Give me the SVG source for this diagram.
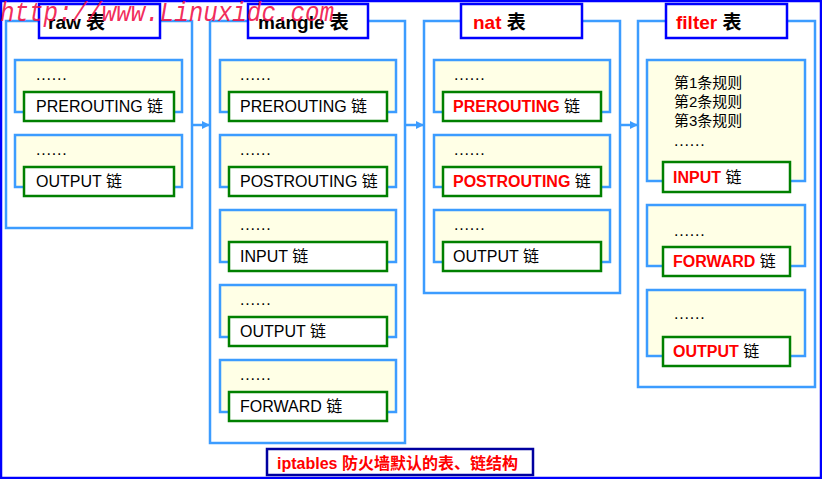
<svg xmlns="http://www.w3.org/2000/svg" width="822" height="479" viewBox="0 0 822 479">
<defs>
<style>
.tbl{fill:#fff;stroke:#3C9CFF;stroke-width:2.5}
.ttl{fill:#fff;stroke:#0000FF;stroke-width:2.5}
.yb{fill:#FFFFE6;stroke:#3C9CFF;stroke-width:2.5}
.gb{fill:#fff;stroke:#008000;stroke-width:2.5}
text{font-family:"Liberation Sans","Noto Sans CJK SC",sans-serif;fill:#000}
.tt{font-size:19px;font-weight:bold}
.ct{font-size:16px}
.r{fill:#FF0000;font-weight:bold}
.dots{font-size:16px;letter-spacing:0.8px}
.rule{font-size:15px}
.conn{stroke:#3C9CFF;stroke-width:2.5;fill:none}
</style>
<marker id="ah" markerWidth="8" markerHeight="8" refX="7" refY="4" orient="auto" markerUnits="userSpaceOnUse">
<path d="M0,0 L8,4 L0,8 Z" fill="#3C9CFF"/>
</marker>
</defs>
<rect x="1" y="1" width="820" height="477" fill="#fff" stroke="#0000FF" stroke-width="2.5"/>

<g id="raw">
<rect class="tbl" x="6" y="21" width="186" height="207"/>
<rect class="ttl" x="39" y="4" width="121" height="34"/>
<text class="tt" x="48" y="29">raw 表</text>
<g id="raw-prerouting">
<rect class="yb" x="15" y="60" width="167" height="52"/>
<text class="dots" x="36" y="80">......</text>
<rect class="gb" x="24" y="92" width="150" height="29"/>
<text class="ct" x="36" y="112">PREROUTING 链</text>
</g>
<g id="raw-output">
<rect class="yb" x="15" y="135" width="167" height="52"/>
<text class="dots" x="36" y="155">......</text>
<rect class="gb" x="24" y="167" width="150" height="29"/>
<text class="ct" x="36" y="187">OUTPUT 链</text>
</g>
</g>

<g id="mangle">
<rect class="tbl" x="210" y="21" width="195" height="422"/>
<rect class="ttl" x="248" y="4" width="120" height="34"/>
<text class="tt" x="258" y="29">mangle 表</text>
<g id="mangle-prerouting">
<rect class="yb" x="220" y="60" width="176" height="52"/>
<text class="dots" x="240" y="80">......</text>
<rect class="gb" x="229" y="92" width="158" height="29"/>
<text class="ct" x="240" y="112">PREROUTING 链</text>
</g>
<g id="mangle-postrouting">
<rect class="yb" x="220" y="135" width="176" height="52"/>
<text class="dots" x="240" y="155">......</text>
<rect class="gb" x="229" y="167" width="158" height="29"/>
<text class="ct" x="240" y="187">POSTROUTING 链</text>
</g>
<g id="mangle-input">
<rect class="yb" x="220" y="210" width="176" height="52"/>
<text class="dots" x="240" y="230">......</text>
<rect class="gb" x="229" y="242" width="158" height="29"/>
<text class="ct" x="240" y="262">INPUT 链</text>
</g>
<g id="mangle-output">
<rect class="yb" x="220" y="285" width="176" height="52"/>
<text class="dots" x="240" y="305">......</text>
<rect class="gb" x="229" y="317" width="158" height="29"/>
<text class="ct" x="240" y="337">OUTPUT 链</text>
</g>
<g id="mangle-forward">
<rect class="yb" x="220" y="360" width="176" height="52"/>
<text class="dots" x="240" y="380">......</text>
<rect class="gb" x="229" y="392" width="158" height="29"/>
<text class="ct" x="240" y="412">FORWARD 链</text>
</g>
</g>

<g id="nat">
<rect class="tbl" x="424" y="21" width="196" height="272"/>
<rect class="ttl" x="461" y="4" width="121" height="34"/>
<text class="tt" x="473" y="29"><tspan class="r">nat</tspan> 表</text>
<g id="nat-prerouting">
<rect class="yb" x="434" y="60" width="176" height="52"/>
<text class="dots" x="454" y="80">......</text>
<rect class="gb" x="443" y="92" width="158" height="29"/>
<text class="ct" x="453" y="112"><tspan class="r">PREROUTING</tspan> 链</text>
</g>
<g id="nat-postrouting">
<rect class="yb" x="434" y="135" width="176" height="52"/>
<text class="dots" x="454" y="155">......</text>
<rect class="gb" x="443" y="167" width="158" height="29"/>
<text class="ct" x="453" y="187"><tspan class="r">POSTROUTING</tspan> 链</text>
</g>
<g id="nat-output">
<rect class="yb" x="434" y="210" width="176" height="52"/>
<text class="dots" x="454" y="230">......</text>
<rect class="gb" x="443" y="242" width="158" height="29"/>
<text class="ct" x="453" y="262">OUTPUT 链</text>
</g>
</g>

<g id="filter">
<rect class="tbl" x="638" y="21" width="177" height="366"/>
<rect class="ttl" x="666" y="4" width="121" height="34"/>
<text class="tt" x="676" y="29"><tspan class="r">filter</tspan> 表</text>
<g id="filter-input">
<rect class="yb" x="647" y="60" width="158" height="121"/>
<text class="rule" x="674" y="88">第1条规则</text>
<text class="rule" x="674" y="107">第2条规则</text>
<text class="rule" x="674" y="126">第3条规则</text>
<text class="dots" x="674" y="146">......</text>
<rect class="gb" x="663" y="162" width="127" height="30"/>
<text class="ct" x="673" y="183"><tspan class="r">INPUT</tspan> 链</text>
</g>
<g id="filter-forward">
<rect class="yb" x="647" y="205" width="158" height="61"/>
<text class="dots" x="674" y="236">......</text>
<rect class="gb" x="663" y="247" width="127" height="29"/>
<text class="ct" x="673" y="267"><tspan class="r">FORWARD</tspan> 链</text>
</g>
<g id="filter-output">
<rect class="yb" x="647" y="290" width="158" height="66"/>
<text class="dots" x="674" y="319">......</text>
<rect class="gb" x="663" y="337" width="127" height="29"/>
<text class="ct" x="673" y="357"><tspan class="r">OUTPUT</tspan> 链</text>
</g>
</g>

<g id="connectors">
<line class="conn" x1="192" y1="125" x2="209" y2="125" marker-end="url(#ah)"/>
<line class="conn" x1="405" y1="125" x2="423" y2="125" marker-end="url(#ah)"/>
<line class="conn" x1="620" y1="125" x2="637" y2="125" marker-end="url(#ah)"/>
</g>

<g id="caption">
<rect x="267" y="449" width="266" height="26" fill="#fff" stroke="#0000A0" stroke-width="2.5"/>
<text x="277" y="469" font-size="16" font-weight="bold" style="fill:#FF0000">iptables 防火墙默认的表、链结构</text>
</g>

<text x="0" y="21" font-style="italic" font-size="27" textLength="334" lengthAdjust="spacingAndGlyphs" style="fill:#F01048;font-family:'Liberation Mono',monospace" fill-opacity="0.9">http://www.Linuxidc.com</text>
</svg>
